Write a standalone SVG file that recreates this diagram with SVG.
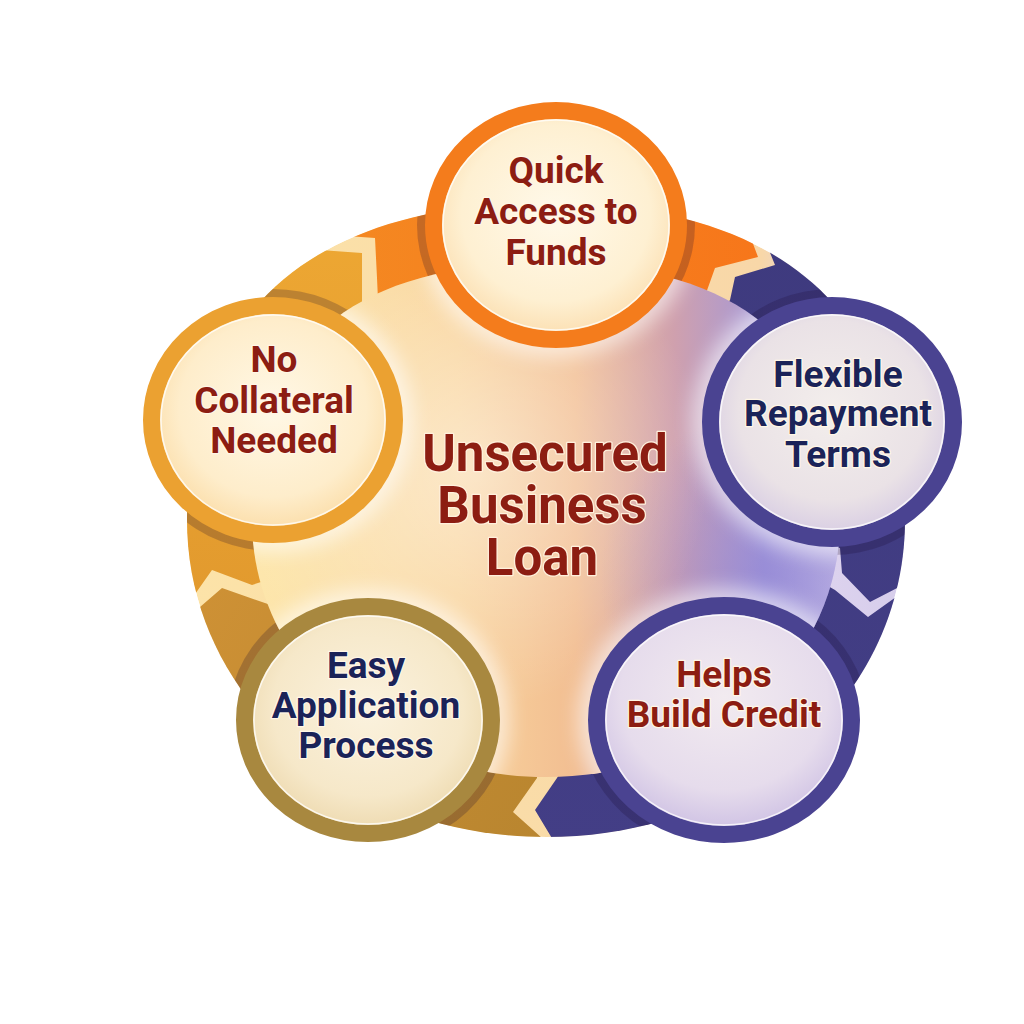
<svg xmlns="http://www.w3.org/2000/svg" width="1024" height="1024" viewBox="0 0 1024 1024">
<defs>
<style>
.t{font-family:Roboto,"Liberation Sans",Arial,sans-serif;font-weight:700;text-anchor:middle;paint-order:stroke;stroke-linejoin:round}
.lbl{font-size:37px;stroke:#FFF6E6;stroke-width:2.5px}
.title{font-size:51px;fill:#8C1D12;stroke:#FFF0DC;stroke-width:2.5px}
.red{fill:#8C1D12}
.navy{fill:#1B2358}
.nodering{stroke-width:17}
.hl{fill:none;stroke:#FFFFFF;stroke-opacity:.75;stroke-width:1.5}
</style>
<linearGradient id="gBase" gradientUnits="userSpaceOnUse" x1="187" y1="0" x2="905" y2="0">
<stop offset="0" stop-color="#FCE3A8"/><stop offset="0.8" stop-color="#F8D7A8"/><stop offset="0.9" stop-color="#DCD2EE"/><stop offset="1" stop-color="#D6CDEB"/>
</linearGradient>
<linearGradient id="gOrange" gradientUnits="userSpaceOnUse" x1="300" y1="0" x2="770" y2="0">
<stop offset="0" stop-color="#F48A22"/><stop offset="1" stop-color="#F7761A"/>
</linearGradient>
<linearGradient id="gGoldU" gradientUnits="userSpaceOnUse" x1="0" y1="230" x2="0" y2="600">
<stop offset="0" stop-color="#EDA733"/><stop offset="1" stop-color="#E29A2E"/>
</linearGradient>
<linearGradient id="gGoldL" gradientUnits="userSpaceOnUse" x1="190" y1="600" x2="560" y2="840">
<stop offset="0" stop-color="#CE9135"/><stop offset="1" stop-color="#B8852F"/>
</linearGradient>
<linearGradient id="gPurple" gradientUnits="userSpaceOnUse" x1="0" y1="200" x2="0" y2="860">
<stop offset="0" stop-color="#3E3A7E"/><stop offset="1" stop-color="#433E86"/>
</linearGradient>
<linearGradient id="gDisk" gradientUnits="userSpaceOnUse" x1="252" y1="0" x2="840" y2="0">
<stop offset="0" stop-color="#FDE7AC"/><stop offset="0.35" stop-color="#F9D49C"/><stop offset="0.55" stop-color="#F2BE92"/><stop offset="0.72" stop-color="#CFA0AE"/><stop offset="0.87" stop-color="#A498D8"/><stop offset="1" stop-color="#C6BCE6"/>
</linearGradient>
<radialGradient id="gGlow" gradientUnits="userSpaceOnUse" cx="470" cy="470" r="240">
<stop offset="0" stop-color="#FFFFFF" stop-opacity=".45"/><stop offset="1" stop-color="#FFFFFF" stop-opacity="0"/>
</radialGradient>
<radialGradient id="gViolet" gradientUnits="userSpaceOnUse" cx="770" cy="580" r="170">
<stop offset="0" stop-color="#8E83D6" stop-opacity=".55"/><stop offset="1" stop-color="#8E83D6" stop-opacity="0"/>
</radialGradient>
<radialGradient id="fQuick" cx=".5" cy=".45" r=".55"><stop offset="0" stop-color="#FFF9EA"/><stop offset=".7" stop-color="#FEF0D2"/><stop offset="1" stop-color="#FBDDAE"/></radialGradient>
<radialGradient id="fNo" cx=".5" cy=".45" r=".55"><stop offset="0" stop-color="#FFF8E6"/><stop offset=".7" stop-color="#FEEDCB"/><stop offset="1" stop-color="#FBDCA6"/></radialGradient>
<radialGradient id="fFlex" cx=".5" cy=".45" r=".55"><stop offset="0" stop-color="#F3EEEC"/><stop offset=".7" stop-color="#EAE2E6"/><stop offset="1" stop-color="#D6CBE3"/></radialGradient>
<radialGradient id="fHelps" cx=".5" cy=".4" r=".58"><stop offset="0" stop-color="#F2EBF0"/><stop offset=".7" stop-color="#E6DCEC"/><stop offset="1" stop-color="#CFC2E4"/></radialGradient>
<radialGradient id="fEasy" cx=".5" cy=".45" r=".55"><stop offset="0" stop-color="#FBF2DE"/><stop offset=".7" stop-color="#F6E8C9"/><stop offset="1" stop-color="#EDD9AE"/></radialGradient>
<clipPath id="cOuter"><path d="M187 520 C187 345.6 277 203 546 203 C815 203 905 345.6 905 520 C905 697.5 747 837 546 837 C345 837 187 697.5 187 520 Z"/></clipPath>
<clipPath id="cDisk"><path d="M252 520 C252 378.6 316.7 263 546 263 C775.3 263 840 378.6 840 520 C840 663.9 710.6 777 546 777 C381.4 777 252 663.9 252 520 Z"/></clipPath>
<filter id="blur" x="-30%" y="-30%" width="160%" height="160%"><feGaussianBlur stdDeviation="10"/></filter>
</defs>

<g id="connectors" clip-path="url(#cOuter)">
<path d="M187 520 C187 345.6 277 203 546 203 C815 203 905 345.6 905 520 C905 697.5 747 837 546 837 C345 837 187 697.5 187 520 Z" fill="url(#gBase)"/>
<polygon id="arrow-orange" fill="url(#gOrange)" points="546,420 378,300 377,278 375,238 333,235 300,200 300,100 720,100 720,157 743,217 758,257 715,268 700,310"/>
<polygon id="arrow-purple-upper" fill="url(#gPurple)" points="640,430 730,300 735,277 775,265 758,223 738,173 738,100 1000,100 1000,570 930,573 903,585 870,602 842,573 840,548 800,540"/>
<polygon id="arrow-purple-lower" fill="url(#gPurple)" points="700,620 800,570 835,590 868,617 903,592 945,562 1000,562 1000,900 600,900 580,885 550,835 535,810 557,778 580,740"/>
<polygon id="arrow-gold-lower" fill="url(#gGoldL)" points="450,650 540,740 537,778 513,812 542,838 570,863 570,950 100,950 100,640 170,640 200,607 222,588 262,602 300,615"/>
<polygon id="arrow-gold-upper" fill="url(#gGoldU)" points="330,560 252,585 212,570 193,597 160,620 100,620 100,150 285,215 320,250 362,253 362,330"/>
<g opacity=".22" fill="#1a0a30">
<ellipse cx="556" cy="225" rx="139" ry="131"/>
<ellipse cx="273" cy="420" rx="138" ry="131"/>
<ellipse cx="832" cy="422" rx="138" ry="133"/>
<ellipse cx="724" cy="720" rx="144" ry="131"/>
<ellipse cx="368" cy="720" rx="140" ry="130"/>
</g>
</g>

<g id="center">
<path d="M252 520 C252 378.6 316.7 263 546 263 C775.3 263 840 378.6 840 520 C840 663.9 710.6 777 546 777 C381.4 777 252 663.9 252 520 Z" fill="url(#gDisk)"/>
<g clip-path="url(#cDisk)">
<rect x="250" y="260" width="600" height="520" fill="url(#gViolet)"/>
<rect x="250" y="260" width="600" height="520" fill="url(#gGlow)"/>
<g fill="#FFFFFF" opacity=".6" filter="url(#blur)">
<ellipse cx="556" cy="225" rx="140" ry="132"/>
<ellipse cx="273" cy="420" rx="140" ry="132"/>
<ellipse cx="832" cy="422" rx="140" ry="134"/>
<ellipse cx="724" cy="720" rx="146" ry="132"/>
<ellipse cx="368" cy="720" rx="141" ry="131"/>
</g>
</g>
<text class="t title" x="545" y="471">Unsecured</text>
<text class="t title" x="542" y="523">Business</text>
<text class="t title" x="542" y="575">Loan</text>
</g>

<g id="node-quick">
<ellipse cx="556" cy="225" rx="122.5" ry="114.5" fill="url(#fQuick)" stroke="#F47C1C" class="nodering"/>
<ellipse cx="556" cy="225" rx="113" ry="105" class="hl"/>
<text class="t lbl red" x="556" y="183">Quick</text>
<text class="t lbl red" x="556" y="224">Access to</text>
<text class="t lbl red" x="556" y="265">Funds</text>
</g>

<g id="node-collateral">
<ellipse cx="273" cy="420" rx="121.5" ry="114.5" fill="url(#fNo)" stroke="#EBA131" class="nodering"/>
<ellipse cx="273" cy="420" rx="112" ry="105" class="hl"/>
<text class="t lbl red" x="274" y="372">No</text>
<text class="t lbl red" x="274" y="413">Collateral</text>
<text class="t lbl red" x="274" y="453">Needed</text>
</g>

<g id="node-flexible">
<ellipse cx="832" cy="422" rx="121.5" ry="116.5" fill="url(#fFlex)" stroke="#4A4391" class="nodering"/>
<ellipse cx="832" cy="422" rx="112" ry="107" class="hl"/>
<text class="t lbl navy" x="838" y="387">Flexible</text>
<text class="t lbl navy" x="838" y="426">Repayment</text>
<text class="t lbl navy" x="838" y="467">Terms</text>
</g>

<g id="node-credit">
<ellipse cx="724" cy="720" rx="127.5" ry="114.5" fill="url(#fHelps)" stroke="#4A4391" class="nodering"/>
<ellipse cx="724" cy="720" rx="118" ry="105" class="hl"/>
<text class="t lbl red" x="724" y="687">Helps</text>
<text class="t lbl red" x="724" y="727">Build Credit</text>
</g>

<g id="node-easy">
<ellipse cx="368" cy="720" rx="123.5" ry="113.5" fill="url(#fEasy)" stroke="#A8883F" class="nodering"/>
<ellipse cx="368" cy="720" rx="114" ry="104" class="hl"/>
<text class="t lbl navy" x="366" y="678">Easy</text>
<text class="t lbl navy" x="366" y="718">Application</text>
<text class="t lbl navy" x="366" y="758">Process</text>
</g>
</svg>
